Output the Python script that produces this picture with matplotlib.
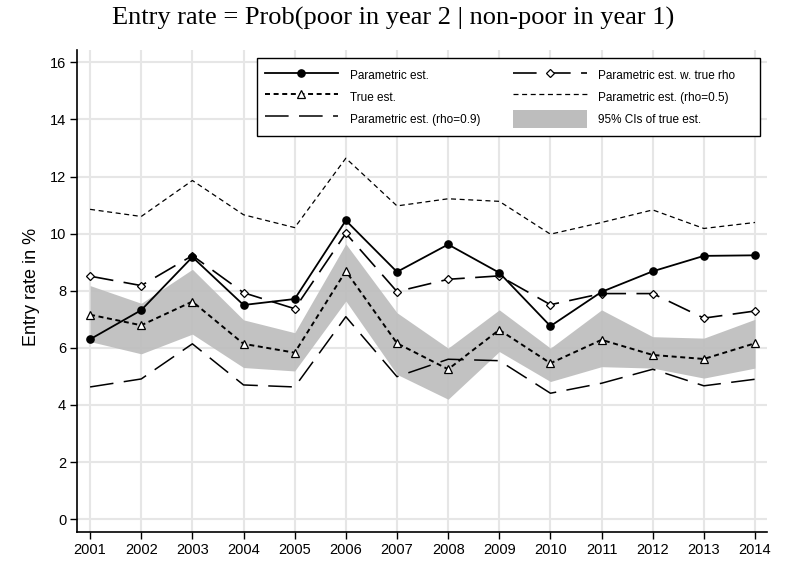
import matplotlib
matplotlib.use("Agg")
import matplotlib.pyplot as plt
from matplotlib.patches import Patch
from matplotlib.lines import Line2D

years = [2001, 2002, 2003, 2004, 2005, 2006, 2007, 2008, 2009, 2010, 2011, 2012, 2013, 2014]
param_est = [6.30, 7.32, 9.18, 7.50, 7.71, 10.46, 8.66, 9.62, 8.63, 6.76, 7.96, 8.68, 9.22, 9.24]
param_true_rho = [8.51, 8.18, 9.23, 7.93, 7.37, 10.01, 7.97, 8.40, 8.52, 7.51, 7.90, 7.90, 7.04, 7.29]
true_est = [7.16, 6.79, 7.62, 6.14, 5.83, 8.69, 6.16, 5.25, 6.63, 5.46, 6.28, 5.75, 5.61, 6.16]
param_rho05 = [10.85, 10.60, 11.86, 10.66, 10.21, 12.64, 10.97, 11.22, 11.13, 9.98, 10.39, 10.83, 10.18, 10.39]
param_rho09 = [4.63, 4.91, 6.14, 4.70, 4.63, 7.09, 4.99, 5.60, 5.55, 4.41, 4.76, 5.25, 4.67, 4.90]
ci_upper = [8.18, 7.56, 8.75, 6.98, 6.53, 9.64, 7.23, 5.99, 7.33, 5.99, 7.33, 6.39, 6.34, 7.00]
ci_lower = [6.22, 5.79, 6.48, 5.31, 5.19, 7.64, 5.07, 4.20, 5.87, 4.82, 5.34, 5.29, 4.94, 5.29]
yticks = [0, 2, 4, 6, 8, 10, 12, 14, 16]

plt.rcParams['lines.scale_dashes'] = False
sans = ['Liberation Sans', 'DejaVu Sans']
serif = ['Liberation Serif', 'DejaVu Serif']

fig = plt.figure(figsize=(7.87, 5.63), dpi=100)
ax = fig.add_axes([77.3/787, 1 - 532.3/563, (767.3-77.3)/787, (532.3-50)/563])

ax.fill_between(years, ci_lower, ci_upper, color='#bdbdbd', alpha=0.92, linewidth=0, zorder=2)

longdash = (0, (17, 7.5))
shortdash = (0, (3.6, 2.6))

ax.plot(years, param_rho05, color='black', lw=0.9, linestyle=shortdash, zorder=3)
ax.plot(years, param_rho09, color='black', lw=1.1, linestyle=longdash, zorder=3)
ax.plot(years, true_est, color='black', lw=1.4, linestyle=shortdash, marker='^', ms=5.5,
        mfc='white', mec='black', mew=0.9, zorder=4)
ax.plot(years, param_true_rho, color='black', lw=1.2, linestyle=longdash, marker='D', ms=4.4,
        mfc='white', mec='black', mew=0.9, zorder=5)
ax.plot(years, param_est, color='black', lw=1.3, linestyle='-', marker='o', ms=5.2,
        mfc='black', mec='black', zorder=6)

ax.set_xlim(2000.75, 2014.24)
ax.set_ylim(-0.46, 16.43)
ax.set_xticks(years)
ax.set_xticklabels([str(y) for y in years], fontfamily=sans, fontsize=10.5)
ax.set_yticks(yticks)
ax.set_yticklabels([str(v) for v in yticks], fontfamily=sans, fontsize=10.5)
ax.tick_params(direction='out', length=5, width=1, pad=3, color='black')
ax.grid(True, color='#e6e6e6', lw=1.5, zorder=0)
ax.set_axisbelow(True)
for s in ['top', 'right']:
    ax.spines[s].set_visible(False)
for s in ['left', 'bottom']:
    ax.spines[s].set_linewidth(1.2)

fig.text(31.7/787, 1 - 286.7/563, 'Entry rate in %', rotation=90, ha='center', va='center',
         fontfamily=sans, fontsize=13)
fig.text(0.5, 1 - 25/563, 'Entry rate = Prob(poor in year 2 | non-poor in year 1)',
         ha='center', va='baseline', fontfamily=serif, fontsize=19)

handles = [
    Line2D([], [], color='black', lw=1.3, marker='o', ms=5.2, mfc='black'),
    Line2D([], [], color='black', lw=1.4, linestyle=shortdash, marker='^', ms=5.5, mfc='white', mew=0.9),
    Line2D([], [], color='black', lw=1.1, linestyle=longdash),
    Line2D([], [], color='black', lw=1.2, linestyle=longdash, marker='D', ms=4.4, mfc='white', mew=0.9),
    Line2D([], [], color='black', lw=0.9, linestyle=shortdash),
    Patch(facecolor='#bdbdbd', edgecolor='none'),
]
pad = '     '
labels = ['Parametric est.', 'True est.', 'Parametric est. (rho=0.9)',
          'Parametric est. w. true rho' + pad, 'Parametric est. (rho=0.5)' + pad,
          '95% CIs of true est.' + pad]
leg = ax.legend(handles, labels, ncol=2, loc='upper right',
                bbox_to_anchor=(760/787, 1 - 58/563), bbox_transform=fig.transFigure,
                prop={'family': sans, 'size': 8.5}, frameon=True, fancybox=False,
                edgecolor='black', framealpha=1, handlelength=6.2, handleheight=2.0,
                handletextpad=1.0, columnspacing=2.8, labelspacing=0.3, borderpad=0.7,
                borderaxespad=0, numpoints=1)
leg.get_frame().set_linewidth(1.0)
leg.set_zorder(10)

fig.savefig('out.png', dpi=100)
